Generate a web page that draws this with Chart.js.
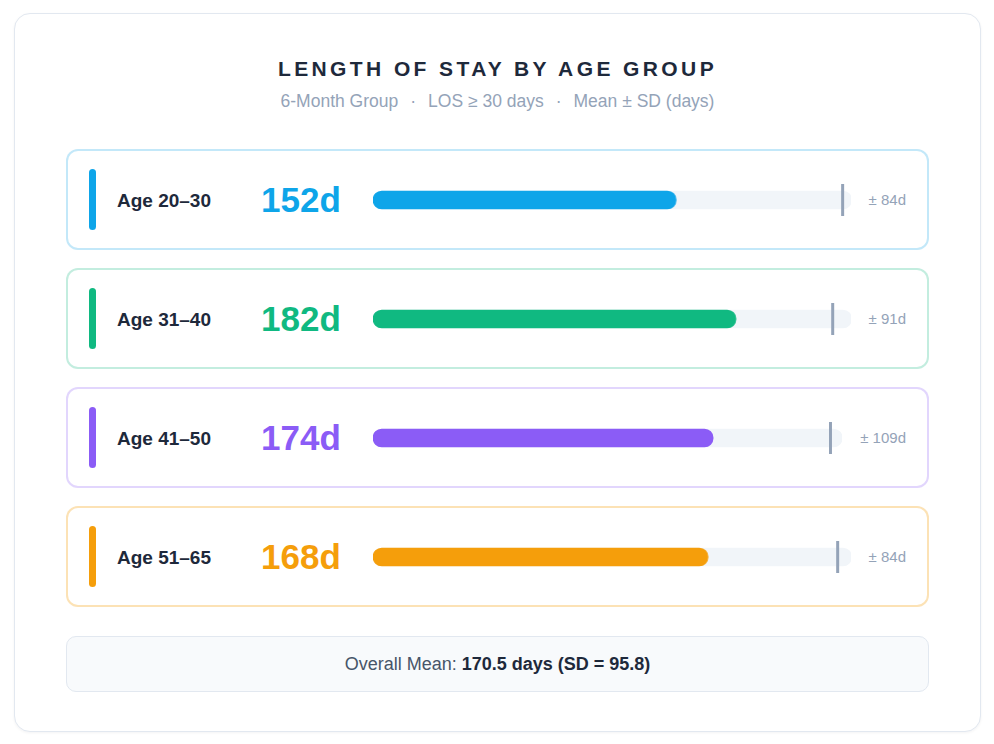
<!DOCTYPE html>
<html>
<head>
<meta charset="utf-8">
<script src="https://cdn.jsdelivr.net/npm/chart.js@4/dist/chart.umd.min.js"></script>
<style>
  html, body { margin: 0; padding: 0; background: #ffffff; }
  body { width: 994px; height: 744px; position: relative; font-family: "Liberation Sans", Arial, Helvetica, sans-serif; }
  .panel {
    position: absolute; left: 14px; top: 13px; width: 967px; height: 719px;
    box-sizing: border-box; border: 1px solid #e2e8f0; border-radius: 16px;
    background: #ffffff; box-shadow: 0 1px 3px rgba(15, 23, 42, 0.05);
    padding: 43px 51px 0 51px;
  }
  .title {
    text-align: center; font-size: 21px; font-weight: bold; letter-spacing: 3.4px;
    color: #1e293b; line-height: 24px; height: 24px;
  }
  .subtitle {
    text-align: center; font-size: 17.5px; color: #94a3b8; line-height: 20px;
    margin-top: 10px; height: 20px;
  }
  .subtitle .dot { margin: 0 12px; }
  .rows { margin-top: 38px; }
  .row {
    height: 101px; box-sizing: border-box; border: 2px solid; border-radius: 12px;
    display: flex; align-items: center; padding: 0 21px; margin-bottom: 18px;
    background: #ffffff;
  }
  .accent { width: 7px; height: 61px; border-radius: 4px; flex: none; }
  .label { margin-left: 21px; width: 144px; flex: none; font-size: 19px; font-weight: bold; color: #1e293b; padding-top: 2px; }
  .value { width: 112px; flex: none; font-size: 35px; font-weight: bold; }
  .bar { flex: 1; position: relative; height: 40px; }
  .sd { margin-left: 18px; flex: none; font-size: 15px; color: #94a3b8; }
  .summary {
    margin-top: 29px; height: 56px; box-sizing: border-box; border: 1px solid #e2e8f0;
    border-radius: 10px; background: #f8fafc; display: flex; align-items: center;
    justify-content: center; font-size: 18px; color: #475569;
  }
  .summary b { color: #1e293b; }
</style>
</head>
<body>
<div class="panel">
  <div class="title">LENGTH OF STAY BY AGE GROUP</div>
  <div class="subtitle">6-Month Group<span class="dot">·</span>LOS ≥ 30 days<span class="dot">·</span>Mean ± SD (days)</div>
  <div class="rows" id="rows"></div>
  <div class="summary"><span>Overall Mean:&nbsp;<b>170.5 days (SD = 95.8)</b></span></div>
</div>
<script>
// data
const ageGroups = ['Age 20–30', 'Age 31–40', 'Age 41–50', 'Age 51–65'];
const meanDays = [152, 182, 174, 168];
const sdDays = [84, 91, 109, 84];
const markerDays = [235.5, 230.5, 234, 233];
const scaleMax = 240;

const colors = ['#0ea5e9', '#10b981', '#8b5cf6', '#f59e0b'];
const borders = ['rgba(14,165,233,0.25)', 'rgba(16,185,129,0.25)', 'rgba(139,92,246,0.25)', 'rgba(245,158,11,0.3)'];

// draws the grey tick on top of each bar
const markerPlugin = {
  id: 'marker',
  afterDatasetsDraw(chart, args, opts) {
    const x = chart.scales.x.getPixelForValue(opts.value);
    const y = chart.scales.y.getPixelForValue(0);
    const ctx = chart.ctx;
    ctx.save();
    ctx.strokeStyle = '#94a3b8';
    ctx.lineWidth = 3;
    ctx.beginPath();
    ctx.moveTo(x, y - 16);
    ctx.lineTo(x, y + 16);
    ctx.stroke();
    ctx.restore();
  }
};

const rowsEl = document.getElementById('rows');

ageGroups.forEach((group, i) => {
  const row = document.createElement('div');
  row.className = 'row';
  row.style.borderColor = borders[i];
  row.innerHTML =
    '<div class="accent" style="background:' + colors[i] + '"></div>' +
    '<div class="label">' + group + '</div>' +
    '<div class="value" style="color:' + colors[i] + '">' + meanDays[i] + 'd</div>' +
    '<div class="bar"><canvas></canvas></div>' +
    '<div class="sd">± ' + sdDays[i] + 'd</div>';
  rowsEl.appendChild(row);

  const canvas = row.querySelector('canvas');
  new Chart(canvas, {
    type: 'bar',
    data: {
      labels: [group],
      datasets: [
        {
          data: [meanDays[i]],
          backgroundColor: colors[i],
          barThickness: 18,
          borderRadius: 9,
          borderSkipped: false,
          grouped: false,
          order: 1
        },
        {
          data: [scaleMax],
          backgroundColor: '#f1f5f9',
          barThickness: 18,
          borderRadius: 9,
          borderSkipped: false,
          grouped: false,
          order: 2
        }
      ]
    },
    options: {
      indexAxis: 'y',
      responsive: true,
      maintainAspectRatio: false,
      animation: false,
      layout: { padding: 0 },
      scales: {
        x: { min: 0, max: scaleMax, display: false },
        y: { display: false }
      },
      plugins: {
        legend: { display: false },
        tooltip: { enabled: false },
        marker: { value: markerDays[i] }
      }
    },
    plugins: [markerPlugin]
  });
});
</script>
</body>
</html>
